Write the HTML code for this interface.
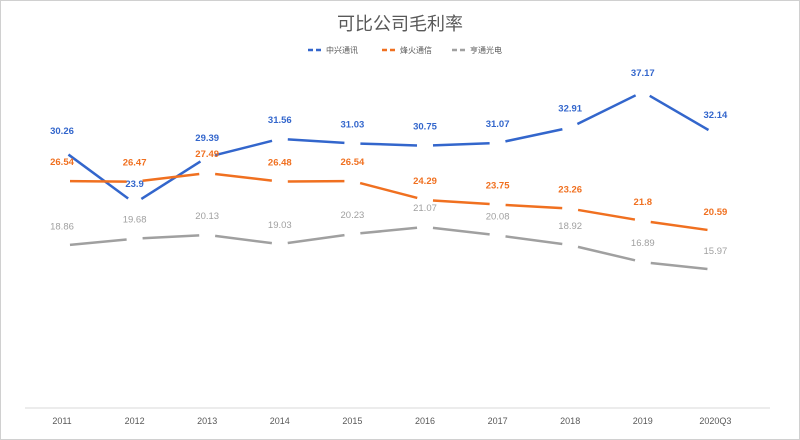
<!DOCTYPE html>
<html><head><meta charset="utf-8"><style>
body{margin:0;background:#fff;}
svg{display:block;font-family:"Liberation Sans","Noto Sans CJK SC",sans-serif;}
</style></head><body>
<svg id="c" width="800" height="440">
<rect x="0.5" y="0.5" width="799" height="439" fill="#fff" stroke="#d0d0d0"/>
<text x="400" y="30" text-anchor="middle" font-size="18" fill="#595959">可比公司毛利率</text>
<g id="legend"></g>
<line x1="25" y1="408" x2="770" y2="408" stroke="#d9d9d9"/>
<g id="xt"></g><g id="plot"></g>
</svg>
<script>
const categories=["2011","2012","2013","2014","2015","2016","2017","2018","2019","2020Q3"];
const seriesNames=["中兴通讯","烽火通信","亨通光电"];
const zte=[30.26,23.9,29.39,31.56,31.03,30.75,31.07,32.91,37.17,32.14];
const fiberhome=[26.54,26.47,27.49,26.48,26.54,24.29,23.75,23.26,21.8,20.59];
const hengtong=[18.86,19.68,20.13,19.03,20.23,21.07,20.08,18.92,16.89,15.97];
const colors=["#3366cc","#f07020","#a0a0a0"];
const NS="http://www.w3.org/2000/svg";
const svg=document.getElementById('c');
function x(i){return 62+i*72.6;}
function y(v){return 404-v*8.4;}
function mk(t,a,p){const e=document.createElementNS(NS,t);for(const k in a)e.setAttribute(k,a[k]);p.appendChild(e);return e;}
const xt=document.getElementById('xt');
categories.forEach((c,i)=>{const t=mk('text',{x:x(i),y:424,'text-anchor':'middle','font-size':9,fill:'#595959'},xt);t.textContent=c;

});
const plot=document.getElementById('plot');
[zte,fiberhome,hengtong].forEach((s,si)=>{
 const g=mk('g',{},plot);
 
 
 for(let i=0;i<s.length-1;i++){
  const x1=x(i),y1=y(s[i]),x2=x(i+1),y2=y(s[i+1]);
  const dx=x2-x1,dy=y2-y1,L=Math.hypot(dx,dy),ux=dx/L*8,uy=dy/L*8;
  const l=mk('line',{x1:x1+ux,y1:y1+uy,x2:x2-ux,y2:y2-uy,stroke:colors[si],'stroke-width':2.5},g);
  
  
 }
 s.forEach((v,i)=>{const t=mk('text',{x:x(i),y:y(v)-16,'text-anchor':'middle','font-size':9.5,'font-weight':si<2?'bold':'normal',fill:colors[si]},g);t.textContent=v;
 
 });
});
const lg=document.getElementById('legend');
const lx=[308,382,452];
seriesNames.forEach((n,i)=>{
 const l=mk('line',{x1:lx[i],y1:50,x2:lx[i]+16,y2:50,stroke:colors[i],'stroke-width':2.5,'stroke-dasharray':'5,3'},lg);
 
 
 const t=mk('text',{x:lx[i]+18,y:53,'font-size':8,fill:'#595959'},lg);t.textContent=n;
 
 
});
</script>
</body></html>
